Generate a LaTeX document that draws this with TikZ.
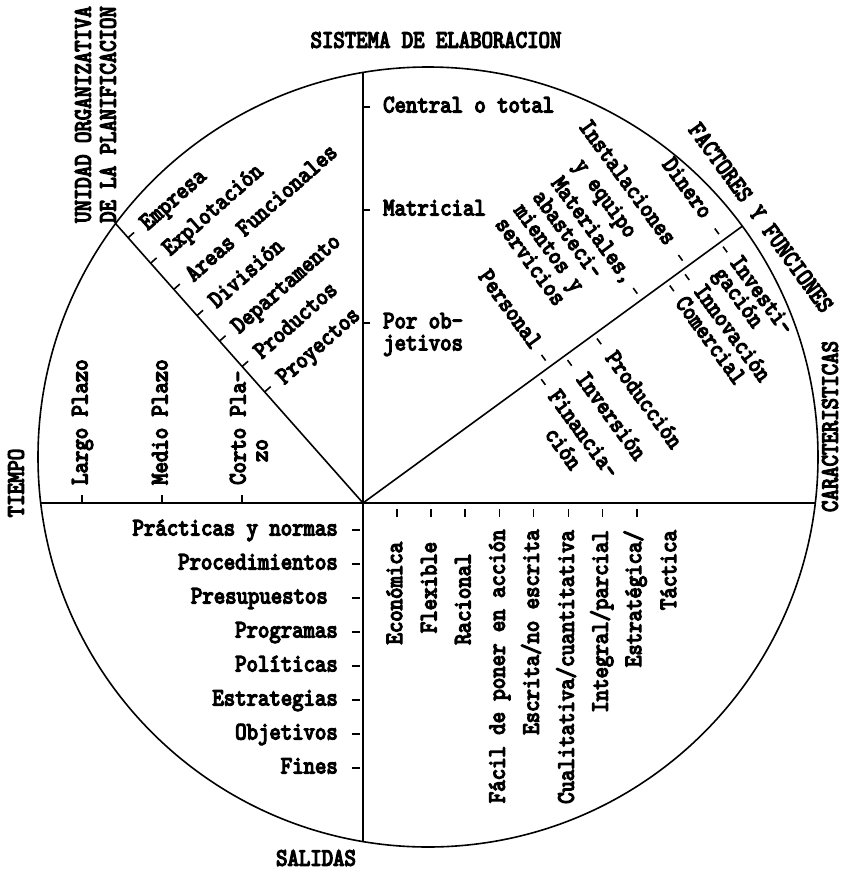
\documentclass[tikz,border=0pt]{standalone}
\usepackage{fontspec}
\newfontfamily\tw{lmmono10-regular}[Extension=.otf, FakeStretch=0.8686, FakeBold=5]
\begin{document}
\begin{tikzpicture}[x=1pt,y=1pt,
  ln/.style={line width=1.6pt},
  tk/.style={line width=1.6pt},
  lbl/.style={font=\tw\fontsize{25}{23}\selectfont, inner sep=0pt, text height=16pt, text depth=5.2pt},
  blk/.style={font=\tw\fontsize{25}{#1}\selectfont, inner sep=0pt},
  ttl/.style={font=\tw\fontsize{25}{25}\selectfont, inner sep=0pt}
]
\useasboundingbox (0,0) rectangle (843,-870);
% geometry
\coordinate (C) at (428,-457);
\coordinate (O) at (363,-503);
\coordinate (T) at (363,-72.5);
\coordinate (B) at (363,-841.5);
\coordinate (L) at (40.7,-503);
\coordinate (R) at (815.3,-503);
\coordinate (A) at (115.5,-223.5);
\coordinate (E) at (742.3,-226.2);
\draw[ln] (C) circle[radius=390pt];
\draw[ln] (T) -- (B);
\draw[ln] (L) -- (R);
\draw[ln] (A) -- (O);
\draw[ln] (O) -- (E);

% outer titles
\node[ttl] (sis) at (436,-40) {SISTEMA DE ELABORACION};
\node[blk=25, align=left, rotate=90, anchor=west] (uni) at (95.5,-223) {UNIDAD ORGANIZATIVA\\DE LA PLANIFICACION};
\node[ttl, rotate=-53.9] (fac) at (761,-217.5) {FACTORES Y FUNCIONES};
\node[ttl, rotate=90] (tie) at (16,-483) {TIEMPO};
\node[ttl, rotate=90] (car) at (830,-426.5) {CARACTERISTICAS};
\node[ttl] (sal) at (316,-858) {SALIDAS};

% sistema de elaboracion
\draw[tk] (363,-107) -- (370,-107);
\draw[tk] (363,-210) -- (370,-210);
\draw[tk] (363,-323) -- (370,-323);
\node[lbl, anchor=west] (s1) at (383,-107) {Central o total};
\node[lbl, anchor=west] (s2) at (383,-210) {Matricial};
\node[blk=22, align=left, anchor=west] (s3) at (383,-334.5) {Por ob-\\jetivos};

% unidad organizativa
\begin{scope}[shift={(A)}, rotate=-48.47]
  \foreach \d/\t [count=\i] in {19/Empresa, 53/Explotación, 88/Areas Funcionales, 123/División, 157/Departamento, 191/Productos, 225/Proyectos}{
    \draw[tk] (\d,0) -- (\d,8);
    \node[lbl, anchor=west, rotate=41.53] (u\i) at (\d+2.5,19) {\t};
  }
\end{scope}

% factores y funciones
\begin{scope}[shift={(O)}, rotate=36.1]
  \foreach \s in {446,401,345,231.5}{\draw[tk] (\s,7.5) -- (\s,14.5);}
  \foreach \s in {442,395,376,286,249.5,217}{\draw[tk] (\s,-5) -- (\s,-12);}
  \node[lbl, anchor=east, rotate=-53.9] (f1) at (446,29) {Dinero};
  \node[blk=27, align=center, anchor=east, rotate=-53.9] (f2) at (387,29) {Instalaciones\\y equipo};
  \node[blk=23, align=left, anchor=east, rotate=-53.9] (f3) at (312.75,22) {Materiales,\\abasteci-\\mientos y\\servicios};
  \node[lbl, anchor=east, rotate=-53.9] (f4) at (231.5,24) {Personal};
  \node[blk=20, align=left, anchor=west, rotate=-53.9] (f5) at (432.5,-21) {Investi-\\gación};
  \node[lbl, anchor=west, rotate=-53.9] (f6) at (397,-23) {Innovación};
  \node[lbl, anchor=west, rotate=-53.9] (f7) at (375,-22) {Comercial};
  \node[lbl, anchor=west, rotate=-53.9] (f8) at (286,-25) {Producción};
  \node[lbl, anchor=west, rotate=-53.9] (f9) at (250,-24.5) {Inversión};
  \node[blk=25, align=center, anchor=west, rotate=-53.9] (f10) at (206.75,-22.6) {Financia-\\ción};
\end{scope}

% tiempo
\draw[tk] (82,-503) -- (82,-495);
\draw[tk] (162,-503) -- (162,-495);
\draw[tk] (242,-503) -- (242,-495);
\node[lbl, rotate=90, anchor=west] (t1) at (82,-485) {Largo Plazo};
\node[lbl, rotate=90, anchor=west] (t2) at (162,-485) {Medio Plazo};
\node[blk=22, align=left, rotate=90, anchor=west] (t3) at (248.75,-485) {Corto Pla-\\\hphantom{Co}zo};

% salidas
\foreach \y in {530,564,598,632,666,700,734,768}{\draw[tk] (352,-\y) -- (360,-\y);}
\node[lbl, anchor=east] (o1) at (338,-530) {Prácticas y normas};
\node[lbl, anchor=east] (o2) at (338,-564) {Procedimientos};
\node[lbl, anchor=east] (o3) at (328,-598) {Presupuestos};
\node[lbl, anchor=east] (o4) at (338,-632) {Programas};
\node[lbl, anchor=east] (o5) at (338,-666) {Políticas};
\node[lbl, anchor=east] (o6) at (338,-700) {Estrategias};
\node[lbl, anchor=east] (o7) at (338,-734) {Objetivos};
\node[lbl, anchor=east] (o8) at (338,-768) {Fines};

% caracteristicas
\foreach \x in {396.7,431,465,499.3,533.3,568.3,602.3,636.7}{\draw[tk] (\x,-509) -- (\x,-517);}
\node[lbl, rotate=90, anchor=east] (c1) at (396.7,-541.7) {Económica};
\node[lbl, rotate=90, anchor=east] (c2) at (431,-541.7) {Flexible};
\node[lbl, rotate=90, anchor=east] (c3) at (465,-553.3) {Racional};
\node[lbl, rotate=90, anchor=east] (c4) at (499.3,-529.3) {Fácil de poner en acción};
\node[lbl, rotate=90, anchor=east] (c5) at (533.3,-529.3) {Escrita/no escrita};
\node[lbl, rotate=90, anchor=east] (c6) at (568.3,-530) {Cualitativa/cuantitativa};
\node[lbl, rotate=90, anchor=east] (c7) at (602.3,-530) {Integral/parcial};
\node[blk=35, align=right, rotate=90, anchor=east] (c8) at (650,-530) {Estratégica/\\Táctica};
\end{tikzpicture}
\end{document}
